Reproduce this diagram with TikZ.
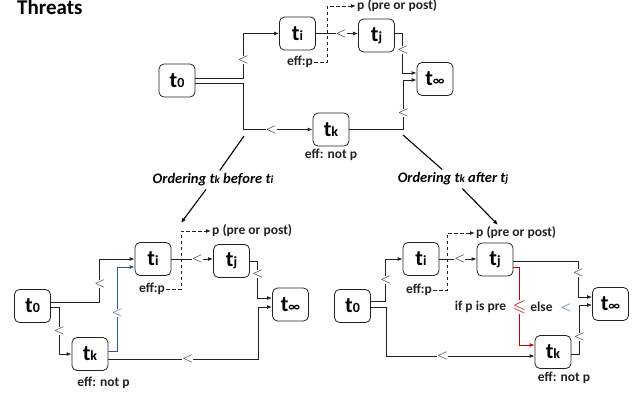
\documentclass[tikz,border=0pt]{standalone}
\usepackage{amssymb}
\usepackage{fontspec}
\setmainfont{Carlito}
\usetikzlibrary{arrows.meta,calc}
\definecolor{ordblue}{HTML}{2F5597}
\definecolor{ordred}{HTML}{C00000}
\definecolor{ink}{HTML}{222222}
\newcommand{\tsub}[1]{{\fontsize{22}{22}\selectfont\bfseries t}{\fontsize{14}{14}\selectfont\bfseries #1}}
\newcommand{\ltfont}{\fontsize{15}{15}\selectfont\mdseries}
\newcommand{\lsym}{$<$}
\begin{document}
\begin{tikzpicture}[x=1pt,y=-1pt,
  box/.style={draw=ink, line width=0.8pt, rounded corners=5pt, minimum width=36pt, minimum height=33pt, inner sep=0pt},
  conn/.style={draw=ink, line width=0.9pt},
  arr/.style={-{Latex[length=5pt,width=4pt]}},
  lt/.style={fill=white, inner sep=0pt, font=\ltfont, text=ink},
  lbl/.style={inner sep=1pt, font=\fontsize{13.5}{14}\selectfont\bfseries, text=ink},
  olbl/.style={inner sep=3pt, font=\fontsize{14.5}{15}\selectfont\bfseries\itshape, text=black},
  dsh/.style={dash pattern=on 3.5pt off 2.5pt},
  dline/.style={draw=black, line width=1.1pt}]
\useasboundingbox (0,0) rectangle (644,395);

\node[anchor=base west, inner sep=0pt, font=\fontsize{21}{21}\selectfont\bfseries] (title) at (17,15) {Threats};

% ---------- top diagram ----------
\node[box] (A0) at (177,80.5) {\tsub{0}};
\node[box] (Ai) at (297.5,33.5) {\tsub{i}};
\node[box] (Aj) at (376.5,35.5) {\tsub{j}};
\node[box] (Ainf) at (435,79) {\tsub{∞}};
\node[box] (Ak) at (331,129.5) {\tsub{k}};
\node[lbl] (Aeff) at (300,62) {eff:p};
\node[lbl, anchor=west] (Ap) at (356,6) {p (pre or post)};
\node[lbl] (Anot) at (331,155) {eff: not p};

\draw[conn,arr] ([yshift=2.5pt]A0.east) -- ++(48,0) |- node[lt,pos=0.2]{\lsym} (Ai.west);
\draw[conn,arr] ([yshift=-2.5pt]A0.east) -- ++(48,0) |- node[lt,pos=0.7]{\lsym} (Ak.west);
\draw[conn,arr] (Ai.east) -- node[lt,pos=0.6]{\lsym} (Ai.east -| Aj.west);
\draw[conn,arr] ([yshift=2pt]Aj.east) -- ++(8,0) |- node[lt,pos=0.21]{\lsym} ([yshift=6pt]Ainf.west);
\draw[conn,arr] (Ak.east) -- ++(54,0) |- node[lt,pos=0.17]{\lsym} ([yshift=-1pt]Ainf.west);
\draw[conn,dsh,arr] (Aeff.east) -- ++(13.5,0) |- (Ap.west);

% ---------- ordering labels ----------
\coordinate (L1) at (244,136);
\coordinate (R1) at (403,135);
\node[olbl] (OL) at (213,180) {Ordering t{\fontsize{11}{11}\selectfont k} before t{\fontsize{11}{11}\selectfont i}};
\node[olbl] (OR) at (453,179) {Ordering t{\fontsize{11}{11}\selectfont k} after t{\fontsize{11}{11}\selectfont j}};
\coordinate (LE) at (181,223);
\coordinate (RE) at (498,225);
\draw[dline] (L1) -- (OL);
\draw[dline,arr] (OL) -- (LE);
\draw[dline] (R1) -- (OR);
\draw[dline,arr] (OR) -- (RE);

% ---------- bottom-left diagram ----------
\node[box] (B0) at (32.5,306) {\tsub{0}};
\node[box] (Bi) at (153,259) {\tsub{i}};
\node[box] (Bj) at (231.5,261) {\tsub{j}};
\node[box] (Binf) at (290.5,304.5) {\tsub{∞}};
\node[box] (Bk) at (90,354) {\tsub{k}};
\node[lbl] (Beff) at (152,289) {eff:p};
\node[lbl, anchor=west] (Bp) at (211,231) {p (pre or post)};
\node[lbl] (Bnot) at (103.5,383) {eff: not p};

\draw[conn,arr] ([yshift=4pt]B0.east) -- ++(49,0) |- node[lt,pos=0.21]{\lsym} (Bi.west);
\draw[conn,arr] ([yshift=-1pt]B0.east) -- ++(8.5,0) |- node[lt,pos=0.255]{\lsym} (Bk.west);
\draw[conn,arr,draw=ordblue] ([yshift=3pt]Bk.east) -- ++(9,0) |- node[lt,pos=0.226,text=ordblue]{\lsym} ([yshift=-8pt]Bi.west);
\draw[conn,arr] (Bi.east) -- node[lt,pos=0.62]{\lsym} (Bi.east -| Bj.west);
\draw[conn,arr] (Bj.east) -- ++(8,0) |- node[lt,pos=0.18]{\lsym} ([yshift=6.5pt]Binf.west);
\draw[conn,arr] ([yshift=-5pt]Bk.east) -- node[lt,pos=0.53]{\lsym} ++(150,0) |- ([yshift=-2.5pt]Binf.west);
\draw[conn,dsh,arr] (Beff.east) -- ++(15,0) |- (Bp.west);

% ---------- bottom-right diagram ----------
\node[box] (C0) at (352.5,306) {\tsub{0}};
\node[box] (Ci) at (421,259) {\tsub{i}};
\node[box] (Cj) at (495,259.5) {\tsub{j}};
\node[box] (Cinf) at (610.5,304) {\tsub{∞}};
\node[box] (Ck) at (553,352) {\tsub{k}};
\node[lbl] (Ceff) at (419,290) {eff:p};
\node[lbl, anchor=west] (Cp) at (475,233) {p (pre or post)};
\node[lbl] (Cnot) at (564,378) {eff: not p};
\node[lbl] (Cif) at (480.5,307) {if p is pre};
\node[lbl] (Celse) at (551,307) {else\hspace{8pt}{\ltfont\color{ordblue}\lsym}};

\draw[conn,arr] ([yshift=5pt]C0.east) -- ++(15,0) |- node[lt,pos=0.25]{\lsym} (Ci.west);
\draw[conn,arr] ([yshift=-1pt]C0.east) -- ++(15.5,0) |- node[lt,pos=0.69]{\lsym} ([yshift=-4pt]Ck.west);
\draw[conn,arr] (Ci.east) -- node[lt,pos=0.55]{\lsym} (Ci.east -| Cj.west);
\draw[conn,arr] ([yshift=-1.5pt]Cj.east) -- ++(65,0) |- node[lt,pos=0.17]{\lsym} ([yshift=7pt]Cinf.west);
\draw[conn,arr,draw=ordred] ([yshift=-7.5pt]Cj.east) -- ++(6,0) |- node[lt,pos=0.256,text=ordred,font=\fontsize{17}{17}\selectfont]{$\leqslant$} ([yshift=7pt]Ck.west);
\draw[conn,arr] ([yshift=-2pt]Ck.east) -- ++(8,0) |- node[lt,pos=0.17]{\lsym} ([yshift=-1pt]Cinf.west);
\draw[conn,dsh,arr] (Ceff.east) -- ++(14,0) |- (Cp.west);
\end{tikzpicture}
\end{document}
